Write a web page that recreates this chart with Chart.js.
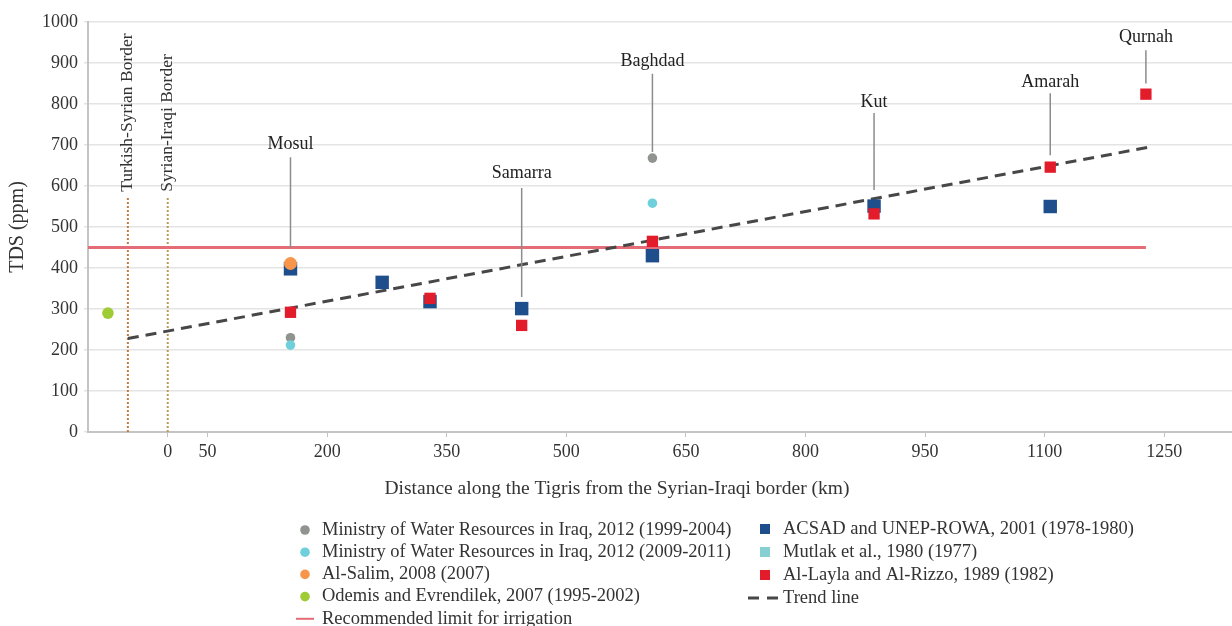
<!DOCTYPE html>
<html>
<head>
<meta charset="utf-8">
<script src="https://cdn.jsdelivr.net/npm/chart.js@4"></script>
<style>
    html, body { margin: 0; padding: 0; background: #fff; }
    #wrap { width: 1232px; height: 626px; position: relative; }
</style>
</head>
<body>
<div id="wrap"><canvas id="chart"></canvas></div>
<script>
// values (km from the Syrian-Iraqi border, TDS in ppm)
const ministry9904Km = [154, 608];
const ministry9904Tds = [230, 668];
const ministry0911Km = [154, 608];
const ministry0911Tds = [212, 558];
const alSalimKm = [154];
const alSalimTds = [411];
const odemisKm = [-75];
const odemisTds = [290];
const acsadKm = [154, 269, 329, 444, 608, 886, 1107];
const acsadTds = [398, 365, 318, 301, 430, 551, 550];
const mutlakKm = [];
const mutlakTds = [];
const alLaylaKm = [154, 329, 444, 608, 886, 1107, 1227];
const alLaylaTds = [292, 326, 260, 465, 532, 646, 824];
const trendKm = [-50, 1229];
const trendTds = [228, 694];
const limitKm = [-100, 1227];
const limitTds = [450, 450];

const borderNames = ['Turkish-Syrian Border', 'Syrian-Iraqi Border'];
const borderKm = [-50, 0];
const borderTop = [573, 573];
const borderLabelTds = [586, 586];

const cityNames = ['Mosul', 'Samarra', 'Baghdad', 'Kut', 'Amarah', 'Qurnah'];
const cityKm = [154, 444, 608, 886, 1107, 1227];
const cityLabelTds = [702, 631, 905, 805, 854, 963];
const cityLineTop = [670, 595, 874, 778, 826, 931];
const cityLineBottom = [449, 329, 683, 590, 675, 850];

const xTicks = [0, 50, 200, 350, 500, 650, 800, 950, 1100, 1250];
const xTitle = 'Distance along the Tigris from the Syrian-Iraqi border (km)';

const FONT = '"Liberation Serif", "Times New Roman", serif';
const TEXT = '#333333';

Chart.defaults.font.family = FONT;
Chart.defaults.font.size = 18;
Chart.defaults.color = TEXT;

const toPoints = (xs, ys) => xs.map((x, i) => ({ x, y: ys[i] }));

const markers = (key, label, xs, ys, style, color, radius, order) => ({
    key,
    label,
    data: toPoints(xs, ys),
    pointStyle: style,
    pointRadius: radius,
    pointHoverRadius: radius,
    backgroundColor: color,
    borderColor: color,
    borderWidth: 0,
    showLine: false,
    order,
});

const borderColors = ['#c47a3c', '#b99b52'];

const datasets = [
    markers('m9904', 'Ministry of Water Resources in Iraq, 2012 (1999-2004)', ministry9904Km, ministry9904Tds, 'circle', '#8f958e', 4.8, 4),
    markers('m0911', 'Ministry of Water Resources in Iraq, 2012 (2009-2011)', ministry0911Km, ministry0911Tds, 'circle', '#6fd0dc', 4.8, 3),
    markers('salim', 'Al-Salim, 2008 (2007)', alSalimKm, alSalimTds, 'circle', '#f7964a', 6.5, 2),
    markers('odemis', 'Odemis and Evrendilek, 2007 (1995-2002)', odemisKm, odemisTds, 'circle', '#9fcb35', 5.8, 1),
    markers('acsad', 'ACSAD and UNEP-ROWA, 2001 (1978-1980)', acsadKm, acsadTds, 'rect', '#1f4e8c', 9.5, 6),
    markers('mutlak', 'Mutlak et al., 1980 (1977)', mutlakKm, mutlakTds, 'rect', '#86d0d4', 8, 7),
    markers('layla', 'Al-Layla and Al-Rizzo, 1989 (1982)', alLaylaKm, alLaylaTds, 'rect', '#e31c2c', 8, 5),
    {
        key: 'trend',
        label: 'Trend line',
        data: toPoints(trendKm, trendTds),
        showLine: true,
        borderColor: '#474747',
        borderWidth: 3,
        borderDash: [11, 7],
        pointRadius: 0,
        order: 9,
    },
    {
        key: 'limit',
        label: 'Recommended limit for irrigation',
        data: toPoints(limitKm, limitTds),
        showLine: true,
        borderColor: '#e46c77',
        borderWidth: 3,
        pointRadius: 0,
        order: 10,
    },
    ...borderKm.map((km, i) => ({
        key: `border-${i}`,
        label: borderNames[i],
        data: [{ x: km, y: 0 }, { x: km, y: borderTop[i] }],
        showLine: true,
        borderColor: borderColors[i],
        borderWidth: 2,
        borderDash: [2, 2],
        pointRadius: 0,
        order: 11,
    })),
    {
        key: 'connectors',
        label: 'City markers',
        data: cityKm.flatMap((km, i) => [
            { x: km, y: cityLineTop[i] },
            { x: km, y: cityLineBottom[i] },
            { x: km, y: null },
        ]),
        showLine: true,
        spanGaps: false,
        borderColor: '#8c8c8c',
        borderWidth: 1.5,
        pointRadius: 0,
        order: 8,
    },
];

const legendLeft = ['m9904', 'm0911', 'salim', 'odemis', 'limit'];
const legendRight = ['acsad', 'mutlak', 'layla', 'trend'];

const annotationPlugin = {
    id: 'annotations',
    afterDatasetsDraw(chart) {
        const { ctx, scales: { x, y } } = chart;
        ctx.save();
        ctx.fillStyle = '#222222';
        ctx.font = `18px ${FONT}`;
        ctx.textAlign = 'center';
        ctx.textBaseline = 'middle';
        cityNames.forEach((name, i) => {
            ctx.fillText(name, x.getPixelForValue(cityKm[i]), y.getPixelForValue(cityLabelTds[i]));
        });

        ctx.font = `17.5px ${FONT}`;
        ctx.fillStyle = TEXT;
        ctx.textAlign = 'left';
        borderNames.forEach((name, i) => {
            ctx.save();
            ctx.translate(x.getPixelForValue(borderKm[i]), y.getPixelForValue(borderLabelTds[i]));
            ctx.rotate(-Math.PI / 2);
            ctx.fillText(name, 0, 0);
            ctx.restore();
        });
        ctx.restore();
    },
    afterDraw(chart) {
        const { ctx } = chart;
        const byKey = (key) => chart.data.datasets.find((d) => d.key === key);

        // x title is centred on the whole figure in the original, not on the plot area
        ctx.save();
        ctx.fillStyle = TEXT;
        ctx.font = `19.5px ${FONT}`;
        ctx.textAlign = 'center';
        ctx.textBaseline = 'middle';
        ctx.fillText(xTitle, 617, 489);
        ctx.restore();

        const drawEntry = (dataset, mx, tx, ty) => {
            ctx.save();
            if (dataset.key === 'limit') {
                ctx.strokeStyle = dataset.borderColor;
                ctx.lineWidth = 2;
                ctx.beginPath();
                ctx.moveTo(mx - 9, ty);
                ctx.lineTo(mx + 9, ty);
                ctx.stroke();
            } else if (dataset.key === 'trend') {
                ctx.strokeStyle = dataset.borderColor;
                ctx.lineWidth = 3;
                ctx.setLineDash([11, 8]);
                ctx.beginPath();
                ctx.moveTo(mx - 17, ty);
                ctx.lineTo(mx + 15, ty);
                ctx.stroke();
            } else if (dataset.pointStyle === 'rect') {
                ctx.fillStyle = dataset.backgroundColor;
                ctx.fillRect(mx - 5, ty - 5, 10, 10);
            } else {
                ctx.fillStyle = dataset.backgroundColor;
                ctx.beginPath();
                ctx.arc(mx, ty, 4.8, 0, Math.PI * 2);
                ctx.fill();
            }
            ctx.fillStyle = TEXT;
            ctx.font = `18.5px ${FONT}`;
            ctx.textAlign = 'left';
            ctx.textBaseline = 'middle';
            ctx.fillText(dataset.label, tx, ty);
            ctx.restore();
        };

        legendLeft.forEach((key, i) => drawEntry(byKey(key), 305, 322, 530 + i * 22.2));
        legendRight.forEach((key, i) => drawEntry(byKey(key), 765, 783, 529 + i * 23));
    },
};

new Chart(document.getElementById('chart'), {
    type: 'scatter',
    data: { datasets },
    options: {
        responsive: true,
        maintainAspectRatio: false,
        animation: false,
        layout: { autoPadding: false, padding: { top: 22, left: 0, right: 0, bottom: 0 } },
        plugins: {
            legend: { display: false },
            tooltip: { enabled: false },
        },
        scales: {
            x: {
                type: 'linear',
                min: -100,
                max: 1335,
                afterBuildTicks: (scale) => {
                    scale.ticks = xTicks.map((value) => ({ value }));
                },
                afterFit: (scale) => {
                    scale.height = 194;
                },
                ticks: {
                    autoSkip: false,
                    maxRotation: 0,
                    padding: 4,
                    color: TEXT,
                    callback: (value) => String(value),
                },
                grid: { drawOnChartArea: false, color: '#c4c4c4', tickLength: 5 },
                border: { color: '#c4c4c4', width: 2 },
            },
            y: {
                min: 0,
                max: 1000,
                afterFit: (scale) => {
                    scale.width = 88;
                },
                ticks: { stepSize: 100, padding: 6, color: TEXT, callback: (value) => String(value) },
                grid: { color: '#e4e4e4', lineWidth: 1.5, tickLength: 4 },
                border: { color: '#c4c4c4', width: 2 },
                title: {
                    display: true,
                    text: 'TDS (ppm)',
                    color: TEXT,
                    font: { size: 20 },
                    padding: { top: 6, bottom: 0 },
                },
            },
        },
    },
    plugins: [annotationPlugin],
});
</script>
</body>
</html>
